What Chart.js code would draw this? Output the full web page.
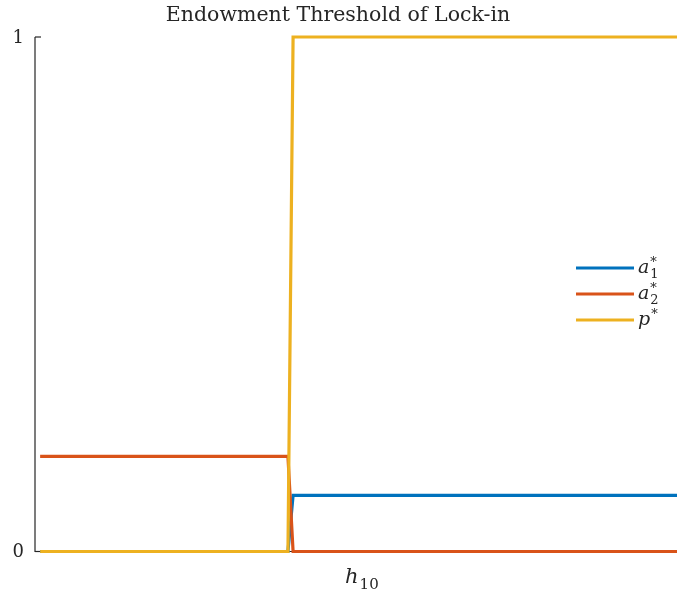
<!DOCTYPE html>
<html>
<head>
<meta charset="utf-8">
<script src="https://cdn.jsdelivr.net/npm/chart.js@4/dist/chart.umd.min.js"></script>
<style>
  html, body { margin: 0; padding: 0; background: #ffffff; overflow: hidden; }
  #wrap { position: relative; width: 677px; height: 595px; }
</style>
</head>
<body>
<div id="wrap"><canvas id="c" width="677" height="595"></canvas></div>
<script>
// Endowment h10 at the corners of each step (arbitrary units, axis spans 0..1)
const hValues = [0.008, 0.394, 0.402, 1.0];

// Equilibrium values at those endowments
const a1Values = [0, 0, 0.109, 0.109];
const a2Values = [0.185, 0.185, 0, 0];
const pValues  = [0, 0, 1, 1];

// Series names: base symbol, subscript, superscript
const seriesBase = ['a', 'a', 'p'];
const seriesSub  = ['1', '2', ''];
const seriesSup  = ['*', '*', '*'];
const seriesColors = ['#0072BD', '#D95319', '#EDB120'];

// Y-axis ticks
const yTicks = [0, 1];
const yTickLabels = ['0', '1'];

const titleText = 'Endowment Threshold of Lock-in';
const xLabelBase = 'h';
const xLabelSub = '10';

const SERIF = '"DejaVu Serif", "Liberation Serif", serif';
const INK = '#262626';

function pts(ys) { return hValues.map((x, i) => ({ x: x, y: ys[i] })); }

// Draws a symbol with optional stacked subscript/superscript, left-aligned at x
function drawMath(ctx, base, sub, sup, x, y, size, subScale) {
  ctx.save();
  ctx.fillStyle = INK;
  ctx.textBaseline = 'alphabetic';
  ctx.textAlign = 'left';
  ctx.font = 'italic ' + size + 'px ' + SERIF;
  ctx.fillText(base, x, y);
  const w = ctx.measureText(base).width;
  const small = Math.round(size * (subScale || 0.68));
  ctx.font = small + 'px ' + SERIF;
  if (sub) ctx.fillText(sub, x + w + 1, y + size * 0.28);
  if (sup) ctx.fillText(sup, x + w + 1, y - size * 0.38);
  ctx.restore();
}

const axesPlugin = {
  id: 'matAxes',
  beforeDatasetsDraw(chart) {
    const { ctx, chartArea, scales } = chart;
    const y = scales.y;
    ctx.save();
    ctx.strokeStyle = INK;
    ctx.lineWidth = 1.2;
    ctx.beginPath();
    ctx.moveTo(chartArea.left, y.getPixelForValue(1));
    ctx.lineTo(chartArea.left, y.getPixelForValue(0));
    ctx.lineTo(chartArea.right, y.getPixelForValue(0));
    ctx.stroke();
    // inward tick marks
    yTicks.forEach(v => {
      const py = y.getPixelForValue(v);
      ctx.beginPath();
      ctx.moveTo(chartArea.left, py);
      ctx.lineTo(chartArea.left + 6, py);
      ctx.stroke();
    });
    ctx.restore();
  },
  afterDraw(chart) {
    const { ctx, chartArea, scales } = chart;
    const y = scales.y, x = scales.x;
    ctx.save();
    // tick labels
    ctx.fillStyle = INK;
    ctx.font = '18px ' + SERIF;
    ctx.textAlign = 'right';
    ctx.textBaseline = 'middle';
    yTicks.forEach((v, i) => {
      ctx.fillText(yTickLabels[i], chartArea.left - 11, y.getPixelForValue(v) + 1);
    });
    // title
    ctx.font = '20.5px ' + SERIF;
    ctx.textAlign = 'center';
    ctx.textBaseline = 'middle';
    ctx.fillText(titleText, 338, 16);
    ctx.restore();

    // x label
    drawMath(ctx, xLabelBase, xLabelSub, '', x.getPixelForValue(0.483), 583, 21, 0.72);

    // legend
    const lx0 = 576, lx1 = 634, ly0 = 268, dy = 26;
    chart.data.datasets.forEach((ds, i) => {
      const ly = ly0 + i * dy;
      ctx.save();
      ctx.strokeStyle = ds.borderColor;
      ctx.lineWidth = ds.borderWidth;
      ctx.beginPath();
      ctx.moveTo(lx0, ly);
      ctx.lineTo(lx1, ly);
      ctx.stroke();
      ctx.restore();
      drawMath(ctx, seriesBase[i], seriesSub[i], seriesSup[i], lx1 + 4, ly + 5, 19);
    });
  }
};

new Chart(document.getElementById('c'), {
  type: 'line',
  data: {
    datasets: [
      { label: 'a1*', data: pts(a1Values), borderColor: seriesColors[0], order: 3 },
      { label: 'a2*', data: pts(a2Values), borderColor: seriesColors[1], order: 2 },
      { label: 'p*',  data: pts(pValues),  borderColor: seriesColors[2], order: 1 }
    ].map(d => Object.assign(d, {
      borderWidth: 3.2,
      pointRadius: 0,
      tension: 0,
      fill: false,
      clip: false,
      borderJoinStyle: 'miter',
      borderCapStyle: 'butt'
    }))
  },
  options: {
    responsive: false,
    animation: false,
    layout: { padding: { left: 35, top: 37, right: 0, bottom: 43.5 } },
    plugins: { legend: { display: false }, tooltip: { enabled: false }, title: { display: false } },
    scales: {
      x: { type: 'linear', min: 0, max: 1, display: false },
      y: { type: 'linear', min: 0, max: 1, display: false }
    }
  },
  plugins: [axesPlugin]
});
</script>
</body>
</html>
